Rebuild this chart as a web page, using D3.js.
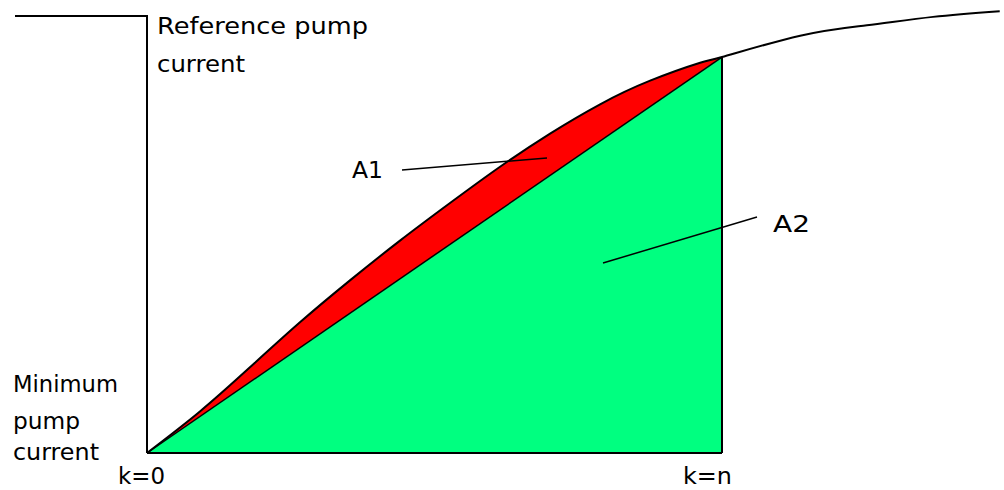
<!DOCTYPE html>
<html>
<head>
<meta charset="utf-8">
<script src="https://cdn.jsdelivr.net/npm/d3@7"></script>
<style>
  body { margin: 0; background: #fff; }
  text { font-family: "DejaVu Sans", sans-serif; font-size: 23.5px; fill: #000; }
</style>
</head>
<body>
<div id="container"></div>
<script>
// sample index k (0 .. n, scaled so n = 1) and pump current (min = 0, reference = 1)
let kValues       = [0, 0.092, 0.179, 0.266, 0.353, 0.440, 0.527, 0.614, 0.701, 0.788, 0.875, 0.962, 1.0, 1.136, 1.252, 1.367, 1.483];
let currentValues = [0, 0.095, 0.196, 0.299, 0.395, 0.486, 0.572, 0.655, 0.731, 0.798, 0.852, 0.893, 0.906, 0.955, 0.979, 0.998, 1.011];

// reference step (before k=0 the current sits at the reference level)
let stepK       = [-0.2296, 0, 0];
let stepCurrent = [1, 1, 0];

let kLabels = ["k=0", "k=n"];
let areaLabels = ["A1", "A2"];

let w = 1004;
let h = 490;

let viz = d3.select("#container")
  .append("svg")
    .attr("width", w)
    .attr("height", h)
;

let xScale = d3.scaleLinear().domain([0, 1]).range([147, 722]);
let yScale = d3.scaleLinear().domain([0, 1]).range([453, 16]);

let curveData = kValues.map(function(k, i){
  return {k: k, c: currentValues[i]};
});
let inside = curveData.filter(function(d){ return d.k <= 1; });
let endPoint = inside[inside.length - 1];
let chordSlope = endPoint.c / endPoint.k;

// green area under the straight line (A2)
let greenPts = [[0, 0], [endPoint.k, endPoint.c], [endPoint.k, 0]];
viz.append("path")
  .attr("d", "M" + greenPts.map(function(p){ return xScale(p[0]) + "," + yScale(p[1]); }).join("L") + "Z")
  .attr("fill", "#00ff80")
;

// red area between curve and chord (A1)
let redArea = d3.area()
  .x(function(d){ return xScale(d.k); })
  .y0(function(d){ return yScale(d.k * chordSlope); })
  .y1(function(d){ return yScale(d.c); })
  .curve(d3.curveNatural)
;
viz.append("path")
  .datum(inside)
  .attr("d", redArea)
  .attr("fill", "#ff0000")
;

// chord
viz.append("line")
  .attr("x1", xScale(0)).attr("y1", yScale(0))
  .attr("x2", xScale(endPoint.k)).attr("y2", yScale(endPoint.c))
  .attr("stroke", "black")
  .attr("stroke-width", 1.5)
;

// curve
let lineMaker = d3.line()
  .x(function(d){ return xScale(d.k); })
  .y(function(d){ return yScale(d.c); })
  .curve(d3.curveNatural)
;
viz.append("path")
  .datum(curveData)
  .attr("d", lineMaker)
  .attr("fill", "none")
  .attr("stroke", "black")
  .attr("stroke-width", 2)
;

// reference step + baseline + k=n edge
let stepData = stepK.map(function(k, i){ return {k: k, c: stepCurrent[i]}; });
viz.append("path")
  .datum(stepData)
  .attr("d", d3.line().x(function(d){ return xScale(d.k); }).y(function(d){ return yScale(d.c); }))
  .attr("fill", "none")
  .attr("stroke", "black")
  .attr("stroke-width", 2)
  .attr("shape-rendering", "crispEdges")
;
viz.append("line")
  .attr("x1", xScale(0)).attr("y1", yScale(0))
  .attr("x2", xScale(endPoint.k)).attr("y2", yScale(0))
  .attr("stroke", "black").attr("stroke-width", 2)
  .attr("shape-rendering", "crispEdges")
;
viz.append("line")
  .attr("x1", xScale(endPoint.k)).attr("y1", yScale(0))
  .attr("x2", xScale(endPoint.k)).attr("y2", yScale(endPoint.c))
  .attr("stroke", "black").attr("stroke-width", 2)
  .attr("shape-rendering", "crispEdges")
;

// leader lines
let leaders = [[402, 170, 547, 158], [603, 263, 757, 217]];
viz.selectAll(".leader").data(leaders).enter()
  .append("line")
  .attr("class", "leader")
  .attr("x1", function(d){ return d[0]; })
  .attr("y1", function(d){ return d[1]; })
  .attr("x2", function(d){ return d[2]; })
  .attr("y2", function(d){ return d[3]; })
  .attr("stroke", "black")
  .attr("stroke-width", 1.5)
;

// texts
let texts = [
  {t: "Reference pump", x: 157, y: 34, len: 211},
  {t: "current", x: 157, y: 72, len: 88},
  {t: "Minimum", x: 13, y: 392, len: 105},
  {t: "pump", x: 13, y: 429, len: 67},
  {t: "current", x: 13, y: 460, len: 86},
  {t: kLabels[0], x: 118, y: 484, len: 47},
  {t: kLabels[1], x: 683, y: 484, len: 49},
  {t: areaLabels[0], x: 352, y: 178, len: 31},
  {t: areaLabels[1], x: 773, y: 232, len: 37}
];
viz.selectAll(".lbl").data(texts).enter()
  .append("text")
  .attr("class", "lbl")
  .attr("x", function(d){ return d.x; })
  .attr("y", function(d){ return d.y; })
  .attr("textLength", function(d){ return d.len; })
  .attr("lengthAdjust", "spacingAndGlyphs")
  .text(function(d){ return d.t; })
;
</script>
</body>
</html>
